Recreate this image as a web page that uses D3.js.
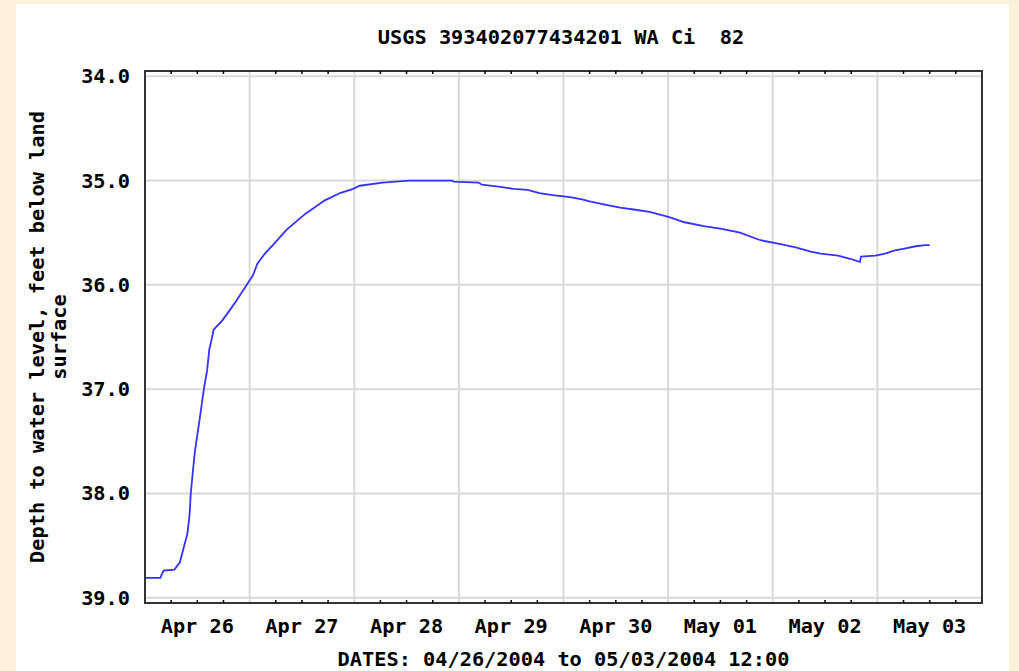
<!DOCTYPE html>
<html>
<head>
<meta charset="utf-8">
<script src="https://cdn.jsdelivr.net/npm/d3@7"></script>
<style>
  html, body { margin: 0; padding: 0; background: #fdf1dc; }
  svg { display: block; }
  text { font-family: "DejaVu Sans Mono", "Liberation Mono", monospace; font-weight: bold; fill: #000; }
</style>
</head>
<body>
<div id="chart"></div>
<script>
// Well readings, Apr 26 - May 3 2004 (depth to water, ft below land surface)
const times = [
  '2004-04-26T00:00', '2004-04-26T03:30', '2004-04-26T04:15', '2004-04-26T06:45',
  '2004-04-26T08:00', '2004-04-26T08:45', '2004-04-26T09:45', '2004-04-26T10:15',
  '2004-04-26T10:30', '2004-04-26T11:00', '2004-04-26T11:30', '2004-04-26T12:30',
  '2004-04-26T13:30', '2004-04-26T14:15', '2004-04-26T14:45', '2004-04-26T15:15',
  '2004-04-26T15:45', '2004-04-26T17:45', '2004-04-26T19:30', '2004-04-26T21:00',
  '2004-04-26T23:30', '2004-04-27T00:45', '2004-04-27T01:45', '2004-04-27T03:30',
  '2004-04-27T05:45', '2004-04-27T08:30', '2004-04-27T12:45', '2004-04-27T17:15',
  '2004-04-27T20:45', '2004-04-27T23:45', '2004-04-28T01:15', '2004-04-28T06:30',
  '2004-04-28T12:30', '2004-04-28T22:30', '2004-04-28T22:45', '2004-04-29T04:30',
  '2004-04-29T05:15', '2004-04-29T09:30', '2004-04-29T12:30', '2004-04-29T15:45',
  '2004-04-29T18:30', '2004-04-29T21:30', '2004-04-30T01:30', '2004-04-30T04:15',
  '2004-04-30T06:00', '2004-04-30T09:30', '2004-04-30T13:00', '2004-04-30T16:30',
  '2004-04-30T19:45', '2004-05-01T00:15', '2004-05-01T03:45', '2004-05-01T08:30',
  '2004-05-01T12:00', '2004-05-01T16:30', '2004-05-01T21:00', '2004-05-02T01:45',
  '2004-05-02T05:15', '2004-05-02T08:30', '2004-05-02T11:00', '2004-05-02T15:00',
  '2004-05-02T17:45', '2004-05-02T20:00', '2004-05-02T20:15', '2004-05-02T23:30',
  '2004-05-03T01:45', '2004-05-03T04:00', '2004-05-03T06:30', '2004-05-03T08:45',
  '2004-05-03T11:00', '2004-05-03T12:00'
];
const depths = [
  38.81, 38.81, 38.74, 38.73,
  38.66, 38.54, 38.38, 38.19,
  38.00, 37.78, 37.58, 37.30,
  37.00, 36.82, 36.62, 36.53,
  36.43, 36.34, 36.24, 36.15,
  35.99, 35.91, 35.80, 35.70,
  35.60, 35.47, 35.32, 35.19,
  35.12, 35.08, 35.05, 35.02,
  35.00, 35.00, 35.01, 35.02,
  35.04, 35.06, 35.08, 35.09,
  35.12, 35.14, 35.16, 35.18,
  35.20, 35.23, 35.26, 35.28,
  35.30, 35.35, 35.40, 35.44,
  35.46, 35.50, 35.57, 35.61,
  35.64, 35.68, 35.70, 35.72,
  35.75, 35.78, 35.73, 35.72,
  35.70, 35.67, 35.65, 35.63,
  35.62, 35.62
];
const yTicks = [34, 35, 36, 37, 38, 39];
const dayLabels = ['Apr 26', 'Apr 27', 'Apr 28', 'Apr 29', 'Apr 30', 'May 01', 'May 02', 'May 03'];

const title = 'USGS 393402077434201 WA Ci  82';
const xTitle = 'DATES: 04/26/2004 to 05/03/2004 12:00';
const yTitle = ['Depth to water level, feet below land', 'surface'];

const width = 1019, height = 671;
const plot = { left: 145, right: 982, top: 71, bottom: 603 };
const fontSize = '20.3px';

const parse = d3.timeParse('%Y-%m-%dT%H:%M');
const data = times.map((t, i) => ({ t: parse(t), v: depths[i] }));

const svg = d3.select('#chart').append('svg')
  .attr('width', width)
  .attr('height', height);

// white panel on the cream page
svg.append('rect')
  .attr('x', 16).attr('y', 4)
  .attr('width', 993).attr('height', height)
  .attr('fill', '#fff');

const x = d3.scaleTime()
  .domain([parse('2004-04-26T00:00'), parse('2004-05-04T00:00')])
  .range([plot.left, plot.right]);

// depth grows downward; small pad above 34 and below 39
const y = d3.scaleLinear()
  .domain([33.95, 39.05])
  .range([plot.top, plot.bottom]);

const days = d3.timeDay.range(x.domain()[0], x.domain()[1]);
const sixHours = d3.timeHour.every(6).range(x.domain()[0], x.domain()[1]);

// grid
svg.append('g').selectAll('line.hgrid')
  .data(yTicks).enter().append('line')
  .attr('x1', plot.left).attr('x2', plot.right)
  .attr('y1', d => y(d)).attr('y2', d => y(d))
  .attr('stroke', '#d9d9d9').attr('stroke-width', 2);

svg.append('g').selectAll('line.vgrid')
  .data(days.slice(1)).enter().append('line')
  .attr('x1', d => x(d)).attr('x2', d => x(d))
  .attr('y1', plot.top).attr('y2', plot.bottom)
  .attr('stroke', '#d9d9d9').attr('stroke-width', 2);

// water level line
const line = d3.line()
  .x(d => x(d.t))
  .y(d => y(d.v));

svg.append('path')
  .datum(data)
  .attr('d', line)
  .attr('fill', 'none')
  .attr('stroke', '#3333ff')
  .attr('stroke-width', 1.8);

// frame
svg.append('rect')
  .attr('x', plot.left).attr('y', plot.top)
  .attr('width', plot.right - plot.left)
  .attr('height', plot.bottom - plot.top)
  .attr('fill', 'none')
  .attr('stroke', '#333')
  .attr('stroke-width', 2);

// 6-hour minor ticks, top and bottom, pointing inward
const minor = sixHours.filter(d => d.getHours() !== 0);
svg.append('g').selectAll('line')
  .data(minor).enter().append('line')
  .attr('x1', d => x(d)).attr('x2', d => x(d))
  .attr('y1', plot.top).attr('y2', plot.top + 3)
  .attr('stroke', '#000').attr('stroke-width', 1.5);
svg.append('g').selectAll('line')
  .data(minor).enter().append('line')
  .attr('x1', d => x(d)).attr('x2', d => x(d))
  .attr('y1', plot.bottom).attr('y2', plot.bottom - 3)
  .attr('stroke', '#000').attr('stroke-width', 1.5);

// y tick labels
svg.append('g').selectAll('text')
  .data(yTicks).enter().append('text')
  .attr('x', 130)
  .attr('y', d => y(d) + 7)
  .attr('text-anchor', 'end')
  .attr('font-size', fontSize)
  .text(d => d.toFixed(1));

// day labels centred on noon
svg.append('g').selectAll('text')
  .data(days).enter().append('text')
  .attr('x', d => x(d3.timeHour.offset(d, 12)))
  .attr('y', 633)
  .attr('text-anchor', 'middle')
  .attr('font-size', fontSize)
  .text((d, i) => dayLabels[i]);

// titles
svg.append('text')
  .attr('x', 561).attr('y', 44)
  .attr('text-anchor', 'middle')
  .attr('font-size', fontSize)
  .style('white-space', 'pre')
  .text(title);

svg.append('text')
  .attr('x', (plot.left + plot.right) / 2).attr('y', 666)
  .attr('text-anchor', 'middle')
  .attr('font-size', fontSize)
  .text(xTitle);

const yt = svg.append('text')
  .attr('transform', `translate(0, ${(plot.top + plot.bottom) / 2}) rotate(-90)`)
  .attr('text-anchor', 'middle')
  .attr('font-size', fontSize);
yt.append('tspan').attr('x', 0).attr('y', 44).text(yTitle[0]);
yt.append('tspan').attr('x', 0).attr('y', 66).text(yTitle[1]);
</script>
</body>
</html>
